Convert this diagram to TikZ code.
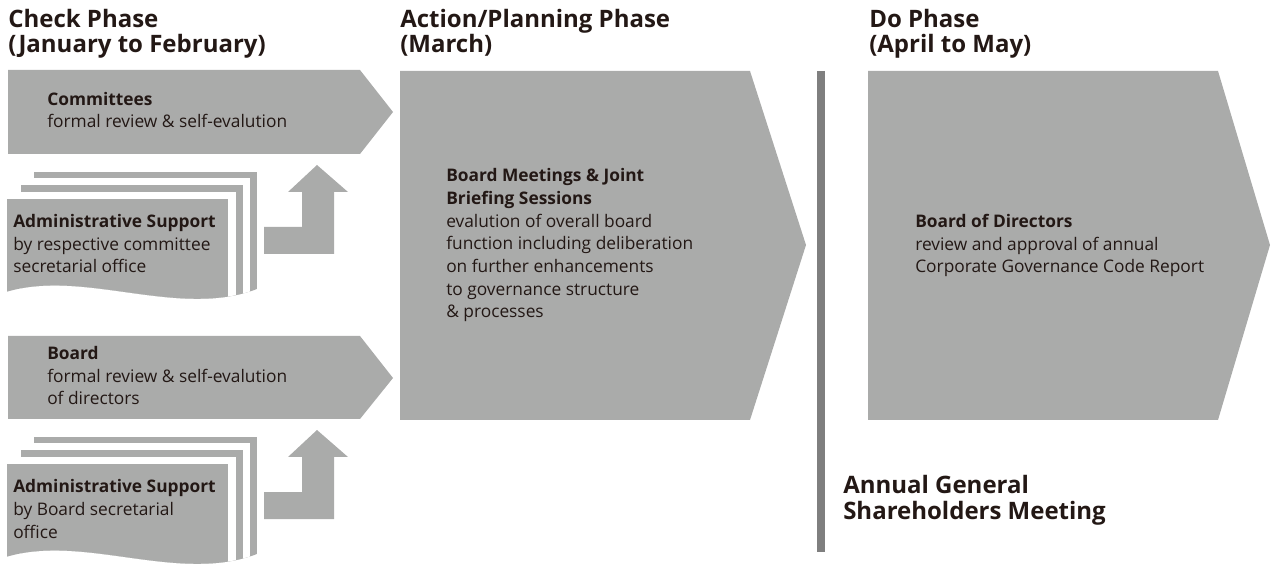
\documentclass[tikz,border=0pt]{standalone}
\usepackage{fontspec}
\setmainfont{Open Sans}
\definecolor{boxgray}{HTML}{AAABAA}
\definecolor{linegray}{HTML}{7F7F7F}
\definecolor{ink}{HTML}{231815}
\begin{document}
\begin{tikzpicture}[x=0.75pt,y=-0.75pt,
  blockshape/.style={fill=boxgray},
  body/.style={anchor=base west,inner sep=0pt,align=left,text=ink,font=\fontsize{13}{17}\selectfont},
  head/.style={anchor=base west,inner sep=0pt,align=left,text=ink,font=\fontsize{18}{19}\selectfont\bfseries},
]
\useasboundingbox (0,0) rectangle (1271,566);

% headers (anchored at the baseline of their last line)
\node[head] (hcheck) at (8,53) {Check Phase\\(January to February)};
\node[head] (haction) at (400,53) {Action/Planning Phase\\(March)};
\node[head] (hdo) at (869,53) {Do Phase\\(April to May)};

% chevrons
\fill[blockshape] (8,70) -- (360,70) -- (393,112) -- (360,154) -- (8,154) -- cycle;
\fill[blockshape] (8,336) -- (360,336) -- (393,378) -- (360,419) -- (8,419) -- cycle;
\fill[blockshape] (400,71) -- (750,71) -- (806,245) -- (750,420) -- (400,420) -- cycle;
\fill[blockshape] (868,71) -- (1218,71) -- (1270,245) -- (1218,420) -- (868,420) -- cycle;

% divider
\draw[linegray, line width=6pt] (821,71) -- (821,552);

% document stacks
\foreach \dy in {0,265}{
\begin{scope}[shift={(0,\dy)}]
  \clip (0,160) -- (262,160) -- (262,287) .. controls (180,322) and (80,265) .. (0,294) -- cycle;
  \fill[boxgray] (34,172) rectangle (257,330);
  \fill[white] (14,178) rectangle (250,330);
  \fill[boxgray] (21,185) rectangle (243,330);
  \fill[white] (0,192) rectangle (236,330);
  \fill[boxgray] (7,199) rectangle (228,330);
\end{scope}
% L-shaped up arrows
\fill[blockshape, shift={(0,\dy)}] (264,254) -- (334,254) -- (334,192) -- (348,192) -- (317,165) -- (288,192) -- (302,192) -- (302,227) -- (264,227) -- cycle;
}

% texts (anchored at the baseline of their last line)
\node[body] (committees) at (47,128) {\textbf{Committees}\\formal review \& self-evalution};
\node[body] (admin1) at (13,273) {\textbf{Administrative Support}\\by respective committee\\secretarial office};
\node[body] (board) at (47,405) {\textbf{Board}\\formal review \& self-evalution\\of directors};
\node[body] (admin2) at (13,538) {\textbf{Administrative Support}\\by Board secretarial\\office};
\node[body] (meetings) at (446,318) {\textbf{Board Meetings \& Joint}\\\textbf{Briefing Sessions}\\evalution of overall board\\function including deliberation\\on further enhancements\\to governance structure\\\& processes};
\node[body] (directors) at (915,273) {\textbf{Board of Directors}\\review and approval of annual\\Corporate Governance Code Report};
\node[head] (agm) at (843,519) {Annual General\\Shareholders Meeting};
\end{tikzpicture}
\end{document}
